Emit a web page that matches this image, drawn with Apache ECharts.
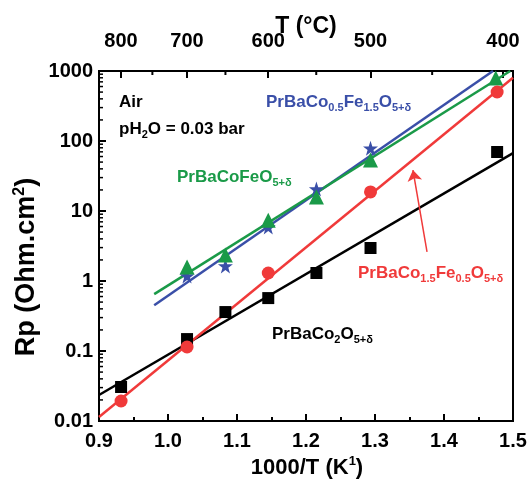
<!DOCTYPE html>
<html><head><meta charset="utf-8">
<script src="https://cdn.jsdelivr.net/npm/echarts@6/dist/echarts.min.js"></script>
<style>html,body{margin:0;padding:0;background:#fff}#c{width:531px;height:490px}</style>
</head><body><div id="c"></div>
<script>
// ---- data ----
const xCo2 = [0.932, 1.0276, 1.0832, 1.1453, 1.2151, 1.2935, 1.477];
const rpCo2 = [0.0306, 0.148, 0.36, 0.57, 1.3, 2.96, 69.6];
const xCo15 = [0.932, 1.0276, 1.1453, 1.2935, 1.477];
const rpCo15 = [0.0193, 0.114, 1.3, 18.7, 501];
const xCoFe = [1.0276, 1.0832, 1.1453, 1.2151, 1.2935, 1.475];
const rpCoFe = [1.58, 2.35, 7.4, 15.8, 53.5, 794];
const xCo05 = [1.0276, 1.0832, 1.1453, 1.2151, 1.2935];
const rpCo05 = [1.18, 1.64, 5.9, 20.6, 79];
// fitted lines (end points)
const fitCo2X = [0.9, 1.5], fitCo2Y = [0.0235, 67];
const fitCo15X = [0.9, 1.5], fitCo15Y = [0.0114, 800];
const fitCoFeX = [0.98, 1.496], fitCoFeY = [0.65, 1000];
const fitCo05X = [0.98, 1.471], fitCo05Y = [0.45, 1000];
// arrow annotation (data space)
const arrowFrom = [1.3754, 2.6], arrowTo = [1.355, 38.5];
// tick labels
const yLabels = ['0.01', '0.1', '1', '10', '100', '1000'];
const topMajorC = [800, 700, 600, 500, 400];
const topMinorC = [750, 650, 550, 450];

const topMajorX = topMajorC.map(c => 1000 / (c + 273.15));
const topMinorX = topMinorC.map(c => 1000 / (c + 273.15));
const yMinor = [];
for (let k = -2; k < 3; k++) for (let m = 2; m < 10; m++) yMinor.push(m * Math.pow(10, k));

const FONT = '"Liberation Sans", Arial, sans-serif';
const RED = '#f03a3a', GREEN = '#1a9a48', BLUE = '#3a4fa8', BLACK = '#000';
const zip = (xs, ys) => xs.map((x, i) => [x, ys[i]]);
const STAR = 'path://M50,0 L61.8,35.1 L98.1,35.1 L68.9,56.8 L79.4,91 L50,70 L20.6,91 L31.1,56.8 L1.9,35.1 L38.2,35.1 Z';

const chart = echarts.init(document.getElementById('c'));
const lineSeries = (xs, ys, color, extra) => Object.assign({
  type: 'line', data: zip(xs, ys), showSymbol: false, symbol: 'none',
  lineStyle: { color, width: 2.5 }, z: 3, silent: true
}, extra || {});
const scatter = (xs, ys, color, symbol, size) => ({
  type: 'scatter', data: zip(xs, ys), symbol, symbolSize: size,
  itemStyle: { color, opacity: 1 }, z: 4, silent: true
});
const axisLine = { show: true, lineStyle: { color: '#000', width: 2 } };

chart.setOption({
  animation: false,
  grid: { left: 99, right: 18, top: 71, bottom: 69, show: true, borderColor: '#000', borderWidth: 2 },
  xAxis: [{
    type: 'value', min: 0.9, max: 1.5, interval: 0.1, position: 'bottom',
    axisLine, splitLine: { show: false },
    axisTick: { inside: true, length: 7, lineStyle: { width: 2, color: '#000' } },
    minorTick: { show: true, splitNumber: 2, length: 4, lineStyle: { width: 2, color: '#000' } },
    axisLabel: { margin: 10, fontFamily: FONT, fontWeight: 'bold', fontSize: 20, color: '#000',
      formatter: v => v.toFixed(1) }
  }, {
    type: 'value', min: 0.9, max: 1.5, position: 'top',
    axisLine, splitLine: { show: false },
    axisTick: { inside: true, length: 7, customValues: topMajorX, lineStyle: { width: 2, color: '#000' } },
    axisLabel: { margin: 20, fontFamily: FONT, fontWeight: 'bold', fontSize: 20, color: '#000',
      customValues: topMajorX,
      formatter: v => { const i = topMajorX.findIndex(t => Math.abs(t - v) < 1e-6); return i >= 0 ? String(topMajorC[i]) : ''; } }
  }],
  yAxis: [{
    type: 'log', logBase: 10, min: 0.01, max: 1000,
    axisLine, splitLine: { show: false },
    axisTick: { inside: true, length: 7, lineStyle: { width: 2, color: '#000' } },
    axisLabel: { margin: 6, fontFamily: FONT, fontWeight: 'bold', fontSize: 20, color: '#000',
      formatter: v => yLabels[Math.round(Math.log10(v)) + 2] }
  }],
  series: [
    {
      type: 'custom', silent: true, z: 5, clip: false,
      data: yMinor.map(v => [0.9, v]),
      renderItem: (params, api) => {
        const p = api.coord([api.value(0), api.value(1)]);
        return { type: 'line', shape: { x1: p[0], y1: p[1], x2: p[0] + 4, y2: p[1] }, style: { stroke: '#000', lineWidth: 1.5 } };
      }
    },
    {
      type: 'custom', silent: true, z: 5, clip: false,
      data: topMinorX.map(x => [x, 1000]),
      renderItem: (params, api) => {
        const p = api.coord([api.value(0), api.value(1)]);
        return { type: 'line', shape: { x1: p[0], y1: p[1], x2: p[0], y2: p[1] + 4 }, style: { stroke: '#000', lineWidth: 2 } };
      }
    },
    lineSeries(fitCo2X, fitCo2Y, BLACK),
    lineSeries(fitCo05X, fitCo05Y, BLUE),
    lineSeries(fitCoFeX, fitCoFeY, GREEN),
    lineSeries(fitCo15X, fitCo15Y, RED, {
      markLine: {
        silent: true, symbol: ['none', 'arrow'], symbolSize: 11,
        label: { show: false }, lineStyle: { color: RED, width: 1.5, type: 'solid' },
        emphasis: { disabled: true },
        data: [[{ coord: arrowFrom }, { coord: arrowTo }]]
      }
    }),
    scatter(xCo2, rpCo2, BLACK, 'rect', 12),
    scatter(xCo05, rpCo05, BLUE, STAR, 15),
    scatter(xCoFe, rpCoFe, GREEN, 'triangle', 15),
    scatter(xCo15, rpCo15, RED, 'circle', 13)
  ],
  graphic: (function () {
    const lab = (x, y, color, text) => ({
      type: 'text', x, y, z: 10, silent: true,
      style: {
        text, fill: color, align: 'left', verticalAlign: 'middle',
        font: 'bold 17px ' + FONT,
        rich: {
          m: { fontFamily: FONT, fontWeight: 'bold', fontSize: 17, lineHeight: 22, fill: color },
          s: { fontFamily: FONT, fontWeight: 'bold', fontSize: 11, lineHeight: 6, verticalAlign: 'bottom', fill: color }
        }
      }
    });
    return [
      lab(119, 102, BLACK, '{m|Air}'),
      lab(119, 129, BLACK, '{m|pH}{s|2}{m|O = 0.03 bar}'),
      lab(266, 102, BLUE, '{m|PrBaCo}{s|0.5}{m|Fe}{s|1.5}{m|O}{s|5+δ}'),
      lab(177, 177, GREEN, '{m|PrBaCoFeO}{s|5+δ}'),
      lab(358, 273, RED, '{m|PrBaCo}{s|1.5}{m|Fe}{s|0.5}{m|O}{s|5+δ}'),
      lab(272, 334, BLACK, '{m|PrBaCo}{s|2}{m|O}{s|5+δ}'),
      {
        type: 'text', x: 306, y: 27, silent: true,
        style: { text: 'T (°C)', fill: '#000', align: 'center', verticalAlign: 'middle', font: 'bold 23px ' + FONT }
      },
      {
        type: 'text', x: 307, y: 468, silent: true,
        style: {
          text: '{a|1000/T (K}{b|1}{a|)}', align: 'center', verticalAlign: 'middle',
          rich: {
            a: { fontFamily: FONT, fontWeight: 'bold', fontSize: 22, lineHeight: 26, fill: '#000' },
            b: { fontFamily: FONT, fontWeight: 'bold', fontSize: 13, lineHeight: 14, verticalAlign: 'top', fill: '#000' }
          }
        }
      },
      {
        type: 'text', x: 27, y: 267, rotation: Math.PI / 2, silent: true,
        style: {
          text: '{a|Rp (Ohm.cm}{b|2}{a|)}', align: 'center', verticalAlign: 'middle',
          rich: {
            a: { fontFamily: FONT, fontWeight: 'bold', fontSize: 27, lineHeight: 30, fill: '#000' },
            b: { fontFamily: FONT, fontWeight: 'bold', fontSize: 16, lineHeight: 16, verticalAlign: 'top', fill: '#000' }
          }
        }
      }
    ];
  })()
});
</script></body></html>
